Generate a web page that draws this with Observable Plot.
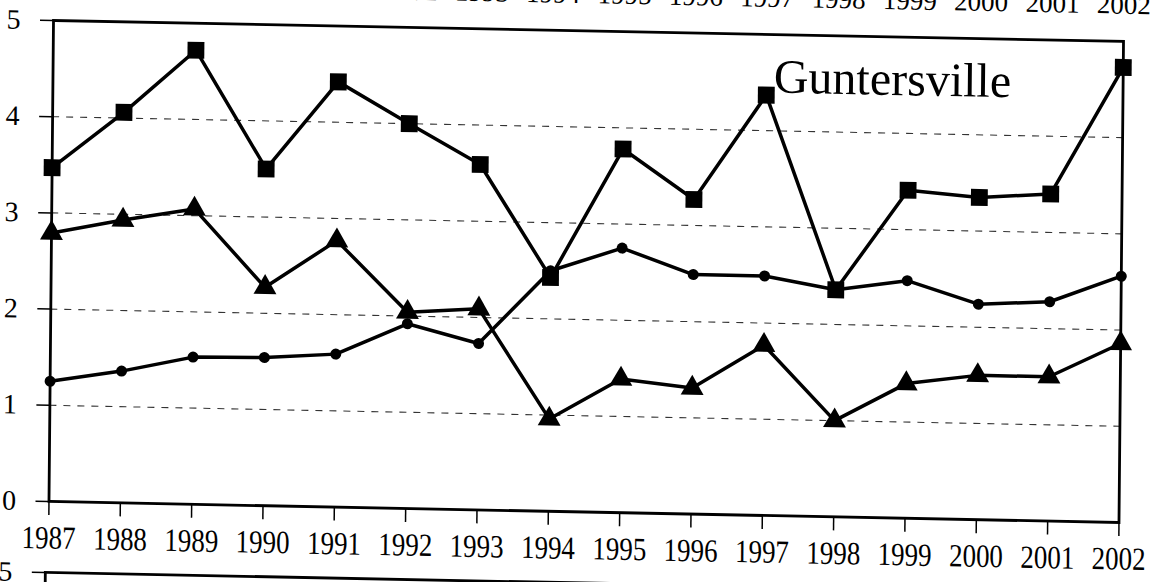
<!DOCTYPE html>
<html>
<head>
<meta charset="utf-8">
<script src="https://cdn.jsdelivr.net/npm/d3@7"></script>
<script src="https://cdn.jsdelivr.net/npm/@observablehq/plot@0.6"></script>
<style>
  html, body { margin: 0; padding: 0; background: #fff; width: 1160px; height: 582px; overflow: hidden; }
  #page { position: absolute; left: 0; top: 0; width: 1160px; height: 582px;
          transform-origin: 0 0; transform: matrix(1, 0.0196, -0.0094, 1, 3.2, -1); }
  #main { position: absolute; left: 0; top: -40px; }
  #next { position: absolute; left: 0; top: 552px; }
  svg { overflow: visible; }
</style>
</head>
<body>
<div id="page"><div id="main"></div><div id="next"></div></div>
<script>
// ---- data ----
const years = [1987, 1988, 1989, 1990, 1991, 1992, 1993, 1994, 1995, 1996, 1997, 1998, 1999, 2000, 2001, 2002];
// tick labels of the panel above, only partly visible at the top edge
const prevPanelYears = [1992, 1993, 1994, 1995, 1996, 1997, 1998, 1999, 2000, 2001, 2002];
const yTicks = [0, 1, 2, 3, 4, 5];
const gridTicks = [1, 2, 3, 4];
const nextPanelTicks = [5];
const seriesSquare   = [3.47, 4.06, 4.72, 3.50, 4.42, 4.00, 3.59, 2.43, 3.78, 3.27, 4.37, 2.36, 3.41, 3.35, 3.40, 4.73];
const seriesCircle   = [1.25, 1.37, 1.53, 1.54, 1.59, 1.92, 1.73, 2.50, 2.75, 2.49, 2.49, 2.36, 2.47, 2.24, 2.28, 2.56];
const seriesTriangle = [2.79, 2.94, 3.07, 2.27, 2.77, 2.04, 2.09, 0.96, 1.39, 1.31, 1.77, 1.00, 1.40, 1.50, 1.50, 1.86];
const lakeName = "Guntersville";

// ---- layout ----
const W = 1160;
const font = "'Liberation Serif', 'Times New Roman', serif";
const mTop = 60, plotH = 481, mBottom = 80, mLeft = 50, mRight = 40;
const xTickSize = 14, xTickPad = 10;
const prevDy = -47;
const labelStretch = 1.2;

const rows = (vals, s) => years.map((y, i) => ({year: y, value: vals[i], series: s}));
const sq = rows(seriesSquare, "square");
const ci = rows(seriesCircle, "circle");
const tr = rows(seriesTriangle, "triangle");
const fmt = d => String(d);

const main = Plot.plot({
  width: W, height: mTop + plotH + mBottom,
  marginTop: mTop, marginBottom: mBottom, marginLeft: mLeft, marginRight: mRight,
  style: {fontFamily: font, background: "transparent", color: "#000", overflow: "visible"},
  x: {domain: [1987, 2002], axis: null},
  y: {domain: [0, 5], axis: null},
  marks: [
    Plot.gridY(gridTicks, {stroke: "#111", strokeOpacity: 0.85, strokeWidth: 1.1, strokeDasharray: "7,7"}),
    Plot.frame({stroke: "#000", strokeWidth: 2.8}),
    Plot.axisY(yTicks, {tickSize: 13, tickPadding: 20, fontSize: 28, tickFormat: fmt, strokeWidth: 1.5}),
    Plot.axisX(years, {tickSize: xTickSize, tickPadding: xTickPad, fontSize: 27, tickFormat: fmt, strokeWidth: 1.5}),
    Plot.text(prevPanelYears, {x: d => d, frameAnchor: "top", dy: prevDy, lineAnchor: "top", fontSize: 27, text: fmt, ariaLabel: "previous panel tick label"}),
    Plot.line(tr, {x: "year", y: "value", stroke: "#000", strokeWidth: 3.5}),
    Plot.line(ci, {x: "year", y: "value", stroke: "#000", strokeWidth: 3.5}),
    Plot.line(sq, {x: "year", y: "value", stroke: "#000", strokeWidth: 3.5}),
    Plot.dot(tr, {x: "year", y: "value", symbol: "triangle", r: 8.5, fill: "#000", stroke: "none"}),
    Plot.dot(ci, {x: "year", y: "value", symbol: "circle", r: 5.5, fill: "#000", stroke: "none"}),
    Plot.dot(sq, {x: "year", y: "value", symbol: "square", r: 9.5, fill: "#000", stroke: "none"}),
    Plot.text([lakeName], {frameAnchor: "top-right", textAnchor: "end", lineAnchor: "middle", dx: -112, dy: 42.6, fontSize: 48})
  ]
});
document.getElementById("main").appendChild(main);

function stretchGroup(svg, label, Y, s) {
  svg.querySelectorAll(`g[aria-label="${label}"]`).forEach(g => {
    const t = g.getAttribute("transform") || "";
    g.setAttribute("transform", `translate(0,${Y}) scale(1,${s}) translate(0,${-Y}) ${t}`);
  });
}
stretchGroup(main, "x-axis tick label", mTop + plotH + xTickSize + xTickPad, labelStretch);
stretchGroup(main, "previous panel tick label", mTop + prevDy, labelStretch);

// next panel (only its top edge is visible)
const next = Plot.plot({
  width: W, height: 300, marginTop: 20, marginBottom: 20, marginLeft: 47, marginRight: mRight,
  style: {fontFamily: font, background: "transparent", color: "#000", overflow: "visible"},
  x: {domain: [1987, 2002], axis: null},
  y: {domain: [0, 5], axis: null},
  marks: [
    Plot.frame({stroke: "#000", strokeWidth: 2.8}),
    Plot.axisY(nextPanelTicks, {tickSize: 13, tickPadding: 20, fontSize: 28, tickFormat: fmt, strokeWidth: 1.5})
  ]
});
document.getElementById("next").appendChild(next);
</script>
</body>
</html>
